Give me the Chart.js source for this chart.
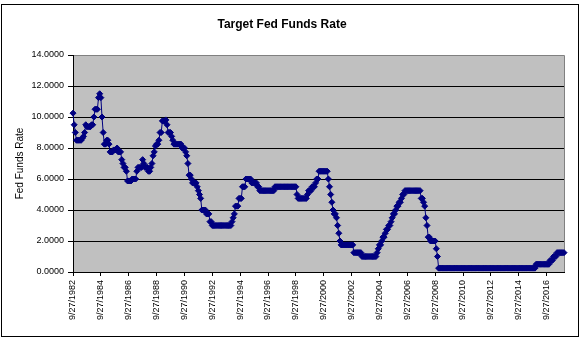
<!DOCTYPE html>
<html><head><meta charset="utf-8">
<script src="https://cdn.jsdelivr.net/npm/chart.js@4/dist/chart.umd.min.js"></script>
<style>html,body{margin:0;padding:0;background:#fff}#wrap{width:584px;height:341px;position:relative}</style>
</head><body><div id="wrap"><canvas id="c" width="584" height="341"></canvas></div>
<script>
const chartTitle = 'Target Fed Funds Rate';
const yAxisTitle = 'Fed Funds Rate';
const startYear = 1982, startMonth = 9; // first category: 9/27/1982, monthly
// target rate in effect, one value per month (Sep 1982 .. Dec 2017)
const rates = [
  10.25, 9.5, 9.0, 8.5,                                              // 1982 Sep-Dec
  8.5, 8.5, 8.5, 8.5, 8.625, 8.75, 9.0, 9.5, 9.375, 9.375, 9.375, 9.375, // 1983
  9.5, 9.5, 10.0, 10.5, 10.5, 10.5, 11.25, 11.5, 11.25, 10.0, 9.0, 8.25, // 1984
  8.25, 8.5, 8.5, 8.25, 7.75, 7.75, 7.75, 7.875, 7.875, 7.875, 8.0, 7.75, // 1985
  7.75, 7.75, 7.25, 7.0, 6.75, 6.75, 6.5, 5.875, 5.875, 5.875, 5.875, 6.0, // 1986
  6.0, 6.0, 6.0, 6.5, 6.75, 6.75, 6.75, 6.75, 7.25, 7.0, 6.75, 6.75,     // 1987
  6.75, 6.5, 6.5, 6.75, 7.0, 7.5, 7.75, 8.125, 8.25, 8.25, 8.5, 9.0,     // 1988
  9.0, 9.75, 9.75, 9.75, 9.8125, 9.5, 9.0, 9.0, 9.0, 8.75, 8.5, 8.25,    // 1989
  8.25, 8.25, 8.25, 8.25, 8.25, 8.25, 8.0, 8.0, 8.0, 7.75, 7.5, 7.0,     // 1990
  6.25, 6.25, 6.0, 5.75, 5.75, 5.75, 5.75, 5.5, 5.25, 5.0, 4.75, 4.0,    // 1991
  4.0, 4.0, 4.0, 3.75, 3.75, 3.75, 3.25, 3.25, 3.0, 3.0, 3.0, 3.0,       // 1992
  3.0, 3.0, 3.0, 3.0, 3.0, 3.0, 3.0, 3.0, 3.0, 3.0, 3.0, 3.0,            // 1993
  3.0, 3.25, 3.5, 3.75, 4.25, 4.25, 4.25, 4.75, 4.75, 4.75, 5.5, 5.5,    // 1994
  5.5, 6.0, 6.0, 6.0, 6.0, 6.0, 5.75, 5.75, 5.75, 5.75, 5.75, 5.5,       // 1995
  5.5, 5.25, 5.25, 5.25, 5.25, 5.25, 5.25, 5.25, 5.25, 5.25, 5.25, 5.25, // 1996
  5.25, 5.25, 5.5, 5.5, 5.5, 5.5, 5.5, 5.5, 5.5, 5.5, 5.5, 5.5,          // 1997
  5.5, 5.5, 5.5, 5.5, 5.5, 5.5, 5.5, 5.5, 5.5, 5.0, 4.75, 4.75,          // 1998
  4.75, 4.75, 4.75, 4.75, 4.75, 4.75, 5.0, 5.25, 5.25, 5.25, 5.5, 5.5,   // 1999
  5.5, 5.75, 6.0, 6.0, 6.5, 6.5, 6.5, 6.5, 6.5, 6.5, 6.5, 6.5,           // 2000
  6.0, 5.5, 5.0, 4.5, 4.0, 3.75, 3.75, 3.5, 3.0, 2.5, 2.0, 1.75,         // 2001
  1.75, 1.75, 1.75, 1.75, 1.75, 1.75, 1.75, 1.75, 1.75, 1.75, 1.25, 1.25, // 2002
  1.25, 1.25, 1.25, 1.25, 1.25, 1.0, 1.0, 1.0, 1.0, 1.0, 1.0, 1.0,       // 2003
  1.0, 1.0, 1.0, 1.0, 1.0, 1.0, 1.25, 1.5, 1.75, 1.75, 2.0, 2.25,        // 2004
  2.25, 2.5, 2.75, 2.75, 3.0, 3.0, 3.25, 3.5, 3.75, 3.75, 4.0, 4.25,     // 2005
  4.25, 4.5, 4.5, 4.75, 5.0, 5.0, 5.25, 5.25, 5.25, 5.25, 5.25, 5.25,    // 2006
  5.25, 5.25, 5.25, 5.25, 5.25, 5.25, 5.25, 5.25, 4.75, 4.75, 4.5, 4.25, // 2007
  3.5, 3.0, 2.25, 2.25, 2.0, 2.0, 2.0, 2.0, 2.0, 1.5, 1.0, 0.25,         // 2008
  0.25, 0.25, 0.25, 0.25, 0.25, 0.25, 0.25, 0.25, 0.25, 0.25, 0.25, 0.25, // 2009
  0.25, 0.25, 0.25, 0.25, 0.25, 0.25, 0.25, 0.25, 0.25, 0.25, 0.25, 0.25, // 2010
  0.25, 0.25, 0.25, 0.25, 0.25, 0.25, 0.25, 0.25, 0.25, 0.25, 0.25, 0.25, // 2011
  0.25, 0.25, 0.25, 0.25, 0.25, 0.25, 0.25, 0.25, 0.25, 0.25, 0.25, 0.25, // 2012
  0.25, 0.25, 0.25, 0.25, 0.25, 0.25, 0.25, 0.25, 0.25, 0.25, 0.25, 0.25, // 2013
  0.25, 0.25, 0.25, 0.25, 0.25, 0.25, 0.25, 0.25, 0.25, 0.25, 0.25, 0.25, // 2014
  0.25, 0.25, 0.25, 0.25, 0.25, 0.25, 0.25, 0.25, 0.25, 0.25, 0.25, 0.5,  // 2015
  0.5, 0.5, 0.5, 0.5, 0.5, 0.5, 0.5, 0.5, 0.5, 0.5, 0.5, 0.75,           // 2016
  0.75, 0.75, 1.0, 1.0, 1.0, 1.25, 1.25, 1.25, 1.25, 1.25, 1.25, 1.25     // 2017
];
const tickLabels = ['9/27/1982','9/27/1984','9/27/1986','9/27/1988','9/27/1990','9/27/1992',
  '9/27/1994','9/27/1996','9/27/1998','9/27/2000','9/27/2002','9/27/2004','9/27/2006',
  '9/27/2008','9/27/2010','9/27/2012','9/27/2014','9/27/2016'];
const yMin = 0, yMax = 14, yStep = 2;

const categories = rates.map((_, i) => {
  const m = startMonth - 1 + i;
  return (m % 12 + 1) + '/27/' + (startYear + Math.floor(m / 12));
});

const FONT = 'Liberation Sans, Arial, sans-serif';
const bgPlugin = {
  id: 'bg',
  beforeDraw(chart) {
    const {ctx, chartArea: a} = chart;
    ctx.save();
    ctx.fillStyle = '#fff';
    ctx.fillRect(0, 0, chart.width, chart.height);
    ctx.fillStyle = '#C0C0C0';
    ctx.fillRect(a.left, a.top, a.right - a.left, a.bottom - a.top);
    ctx.strokeStyle = '#808080';
    ctx.lineWidth = 1;
    ctx.beginPath();
    ctx.moveTo(a.left, a.top + 0.5);
    ctx.lineTo(a.right + 0.5, a.top + 0.5);
    ctx.lineTo(a.right + 0.5, a.bottom);
    ctx.stroke();
    ctx.strokeStyle = '#000';
    ctx.strokeRect(1.5, 4.5, 577, 332);
    ctx.restore();
  }
};

new Chart(document.getElementById('c'), {
  type: 'line',
  data: {
    labels: categories,
    datasets: [{
      data: rates,
      borderColor: '#000080',
      backgroundColor: '#000080',
      borderWidth: 1,
      pointStyle: 'rectRot',
      pointRadius: 3,
      pointBorderWidth: 1,
      pointBackgroundColor: '#000080',
      pointBorderColor: '#000080',
      tension: 0,
      fill: false
    }]
  },
  options: {
    responsive: false,
    animation: false,
    devicePixelRatio: 1,
    layout: { padding: { left: 0, right: 20, top: 0, bottom: 0 } },
    plugins: {
      legend: { display: false },
      tooltip: { enabled: false },
      title: {
        display: true,
        text: chartTitle,
        color: '#000',
        font: { family: FONT, size: 12, weight: 'bold' },
        padding: { top: 17, bottom: 23.6 }
      }
    },
    scales: {
      x: {
        type: 'category',
        afterFit(s) { s.height = 69; },
        border: { display: true, color: '#000', width: 1 },
        grid: { drawOnChartArea: false, drawTicks: true, tickLength: 4, tickColor: '#000', color: '#000' },
        ticks: {
          autoSkip: false, maxRotation: 90, minRotation: 90, padding: 4,
          color: '#000', font: { family: FONT, size: 9 },
          callback(v) {
            const l = this.getLabelForValue(v);
            return tickLabels.includes(l) ? l : null;
          }
        }
      },
      y: {
        min: yMin, max: yMax,
        afterFit(s) { s.width = 73; },
        border: { display: true, color: '#000', width: 1 },
        grid: {
          color: c => (c.tick && c.tick.value === yMax) ? '#808080' : '#000',
          tickColor: '#000', tickLength: 5, lineWidth: 1
        },
        ticks: {
          stepSize: yStep, padding: 4, color: '#000',
          font: { family: FONT, size: 9 },
          callback: v => Number(v).toFixed(4)
        },
        title: {
          display: true, text: yAxisTitle, color: '#000',
          font: { family: FONT, size: 10 },
          padding: { top: 14, bottom: 0 }
        }
      }
    }
  },
  plugins: [bgPlugin]
});
</script></body></html>
